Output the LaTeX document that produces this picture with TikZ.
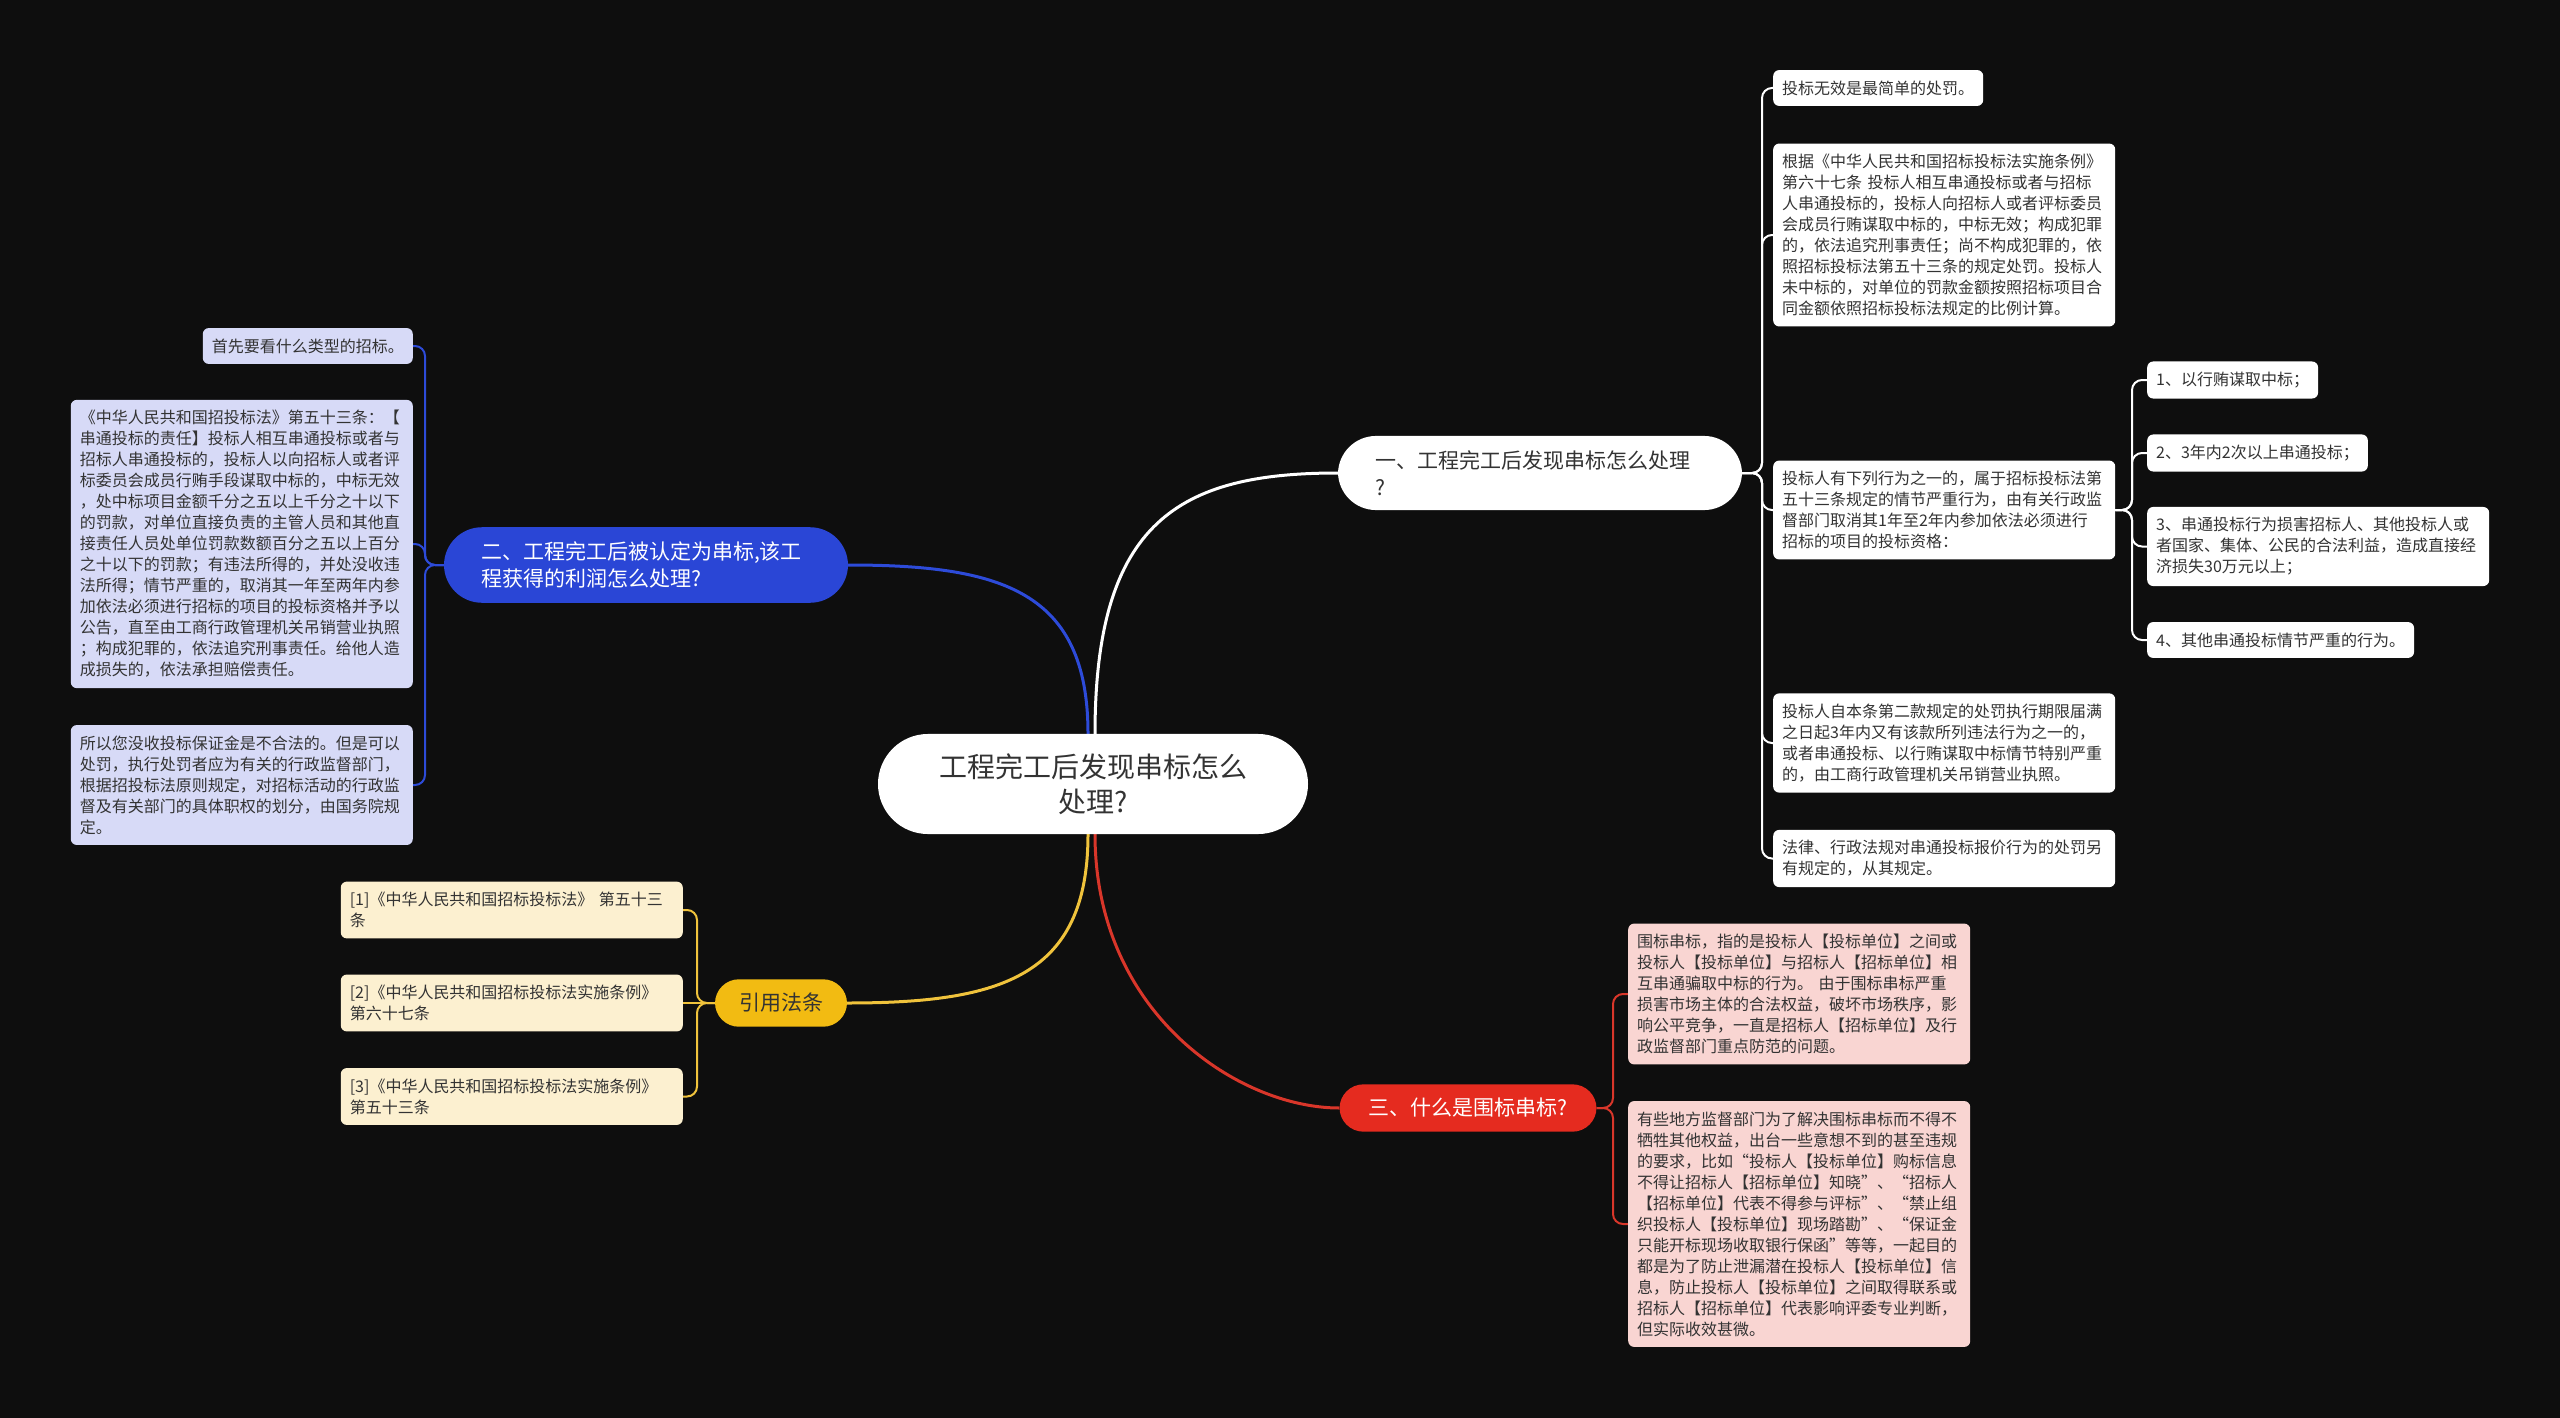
\documentclass[tikz,border=0pt]{standalone}
\usepackage{fontspec}
\setmainfont{Noto Sans CJK SC}
\usetikzlibrary{calc,backgrounds}
\definecolor{bg}{HTML}{0E0E0E}
\definecolor{txt}{HTML}{333333}
\definecolor{bluefill}{HTML}{2A46D6}
\definecolor{blueline}{HTML}{2D4BD9}
\definecolor{yelfill}{HTML}{F2BB12}
\definecolor{yelline}{HTML}{F0C33C}
\definecolor{redfill}{HTML}{E52B1F}
\definecolor{redline}{HTML}{D9362A}
\definecolor{lav}{HTML}{D7DAF7}
\definecolor{pinkf}{HTML}{F9D5D2}
\definecolor{cream}{HTML}{FCF0D0}
\begin{document}
\begin{tikzpicture}[x=1pt,y=1pt,
  leafbase/.style={draw=none, text=txt, rounded corners=6pt, inner xsep=9pt, inner ysep=10.5pt,
    font=\fontsize{16}{21}\selectfont, align=left},
  wleaf/.style={leafbase, fill=white},
  pleaf/.style={leafbase, fill=pinkf},
  lleaf/.style={leafbase, fill=lav, text=black!80},
  cleaf/.style={leafbase, fill=cream},
  wide/.style={text width=324pt},
  branchbox/.style={inner xsep=37pt, inner ysep=14.5pt, rounded corners=38pt, text width=330pt,
    align=left, font=\fontsize{21}{27}\selectfont},
  pillbox/.style={inner ysep=14pt, rounded corners=24pt, font=\fontsize{21}{27}\selectfont},
  mainw/.style={draw=white, line width=3pt},
  mainb/.style={draw=blueline, line width=3pt},
  mainy/.style={draw=yelline, line width=3pt},
  mainr/.style={draw=redline, line width=3pt},
  lw/.style={draw=white, line width=2pt, rounded corners=10pt},
  lb/.style={draw=blueline, line width=2pt, rounded corners=10pt},
  ly/.style={draw=yelline, line width=2pt, rounded corners=10pt},
  lr/.style={draw=redline, line width=2pt, rounded corners=10pt}
]
\useasboundingbox (0,0) rectangle (2560,-1418);

% root
\node[fill=white, text=txt, rounded corners=50pt, minimum width=430pt, inner ysep=19.5pt,
  align=center, font=\fontsize{28}{35}\selectfont] (root) at (1093,-784)
  {工程完工后发现串标怎么\\处理?};

% main branches
\node[branchbox, fill=white, text=txt] (b1) at (1540,-473) {一、工程完工后发现串标怎么处理\\?};
\node[branchbox, fill=bluefill, text=white] (b2) at (646,-565) {二、工程完工后被认定为串标,该工\\程获得的利润怎么处理?};
\node[pillbox, fill=yelfill, text=txt, inner xsep=24pt] (cite) at (781,-1003) {引用法条};
\node[pillbox, fill=redfill, text=white, inner xsep=29pt] (b3) at (1468,-1108) {三、什么是围标串标?};

% right white leaves
\node[wleaf, anchor=west] (lA) at (1773,-88) {投标无效是最简单的处罚。};
\node[wleaf, wide, anchor=west] (lB) at (1773,-235) {根据《中华人民共和国招标投标法实施条例》\\第六十七条 投标人相互串通投标或者与招标\\人串通投标的，投标人向招标人或者评标委员\\会成员行贿谋取中标的，中标无效；构成犯罪\\的，依法追究刑事责任；尚不构成犯罪的，依\\照招标投标法第五十三条的规定处罚。投标人\\未中标的，对单位的罚款金额按照招标项目合\\同金额依照招标投标法规定的比例计算。};
\node[wleaf, wide, anchor=west] (lC) at (1773,-510) {投标人有下列行为之一的，属于招标投标法第\\五十三条规定的情节严重行为，由有关行政监\\督部门取消其1年至2年内参加依法必须进行\\招标的项目的投标资格：};
\node[wleaf, wide, anchor=west] (lD) at (1773,-743) {投标人自本条第二款规定的处罚执行期限届满\\之日起3年内又有该款所列违法行为之一的，\\或者串通投标、以行贿谋取中标情节特别严重\\的，由工商行政管理机关吊销营业执照。};
\node[wleaf, wide, anchor=west] (lE) at (1773,-858.5) {法律、行政法规对串通投标报价行为的处罚另\\有规定的，从其规定。};

% sub leaves
\node[wleaf, anchor=west] (s1) at (2147,-380) {1、以行贿谋取中标；};
\node[wleaf, anchor=west] (s2) at (2147,-453) {2、3年内2次以上串通投标；};
\node[wleaf, wide, anchor=west] (s3) at (2147,-546.5) {3、串通投标行为损害招标人、其他投标人或\\者国家、集体、公民的合法利益，造成直接经\\济损失30万元以上；};
\node[wleaf, anchor=west] (s4) at (2147,-640) {4、其他串通投标情节严重的行为。};

% pink leaves
\node[pleaf, wide, anchor=west] (pF) at (1628,-994) {围标串标，指的是投标人【投标单位】之间或\\投标人【投标单位】与招标人【招标单位】相\\互串通骗取中标的行为。 由于围标串标严重\\损害市场主体的合法权益，破坏市场秩序，影\\响公平竞争，一直是招标人【招标单位】及行\\政监督部门重点防范的问题。};
\node[pleaf, wide, anchor=west] (pG) at (1628,-1224) {有些地方监督部门为了解决围标串标而不得不\\牺牲其他权益，出台一些意想不到的甚至违规\\的要求，比如“投标人【投标单位】购标信息\\不得让招标人【招标单位】知晓”、“招标人\\【招标单位】代表不得参与评标”、“禁止组\\织投标人【投标单位】现场踏勘”、“保证金\\只能开标现场收取银行保函”等等，一起目的\\都是为了防止泄漏潜在投标人【投标单位】信\\息，防止投标人【投标单位】之间取得联系或\\招标人【招标单位】代表影响评委专业判断，\\但实际收效甚微。};

% lavender leaves
\node[lleaf, anchor=east] (lH) at (413,-346) {首先要看什么类型的招标。};
\node[lleaf, wide, anchor=east] (lI) at (413,-544) {《中华人民共和国招投标法》第五十三条：【\\串通投标的责任】投标人相互串通投标或者与\\招标人串通投标的，投标人以向招标人或者评\\标委员会成员行贿手段谋取中标的，中标无效\\，处中标项目金额千分之五以上千分之十以下\\的罚款，对单位直接负责的主管人员和其他直\\接责任人员处单位罚款数额百分之五以上百分\\之十以下的罚款；有违法所得的，并处没收违\\法所得；情节严重的，取消其一年至两年内参\\加依法必须进行招标的项目的投标资格并予以\\公告，直至由工商行政管理机关吊销营业执照\\；构成犯罪的，依法追究刑事责任。给他人造\\成损失的，依法承担赔偿责任。};
\node[lleaf, wide, anchor=east] (lJ) at (413,-785) {所以您没收投标保证金是不合法的。但是可以\\处罚，执行处罚者应为有关的行政监督部门，\\根据招投标法原则规定，对招标活动的行政监\\督及有关部门的具体职权的划分，由国务院规\\定。};

% cream leaves
\node[cleaf, wide, anchor=east] (cK) at (683,-910) {[1]《中华人民共和国招标投标法》 第五十三\\条};
\node[cleaf, wide, anchor=east] (cL) at (683,-1003) {[2]《中华人民共和国招标投标法实施条例》\\第六十七条};
\node[cleaf, wide, anchor=east] (cM) at (683,-1096.5) {[3]《中华人民共和国招标投标法实施条例》\\第五十三条};

% junction coordinates
\coordinate (j1) at (1762,-473);
\coordinate (j2) at (425,-565);
\coordinate (j3) at (697,-1003);
\coordinate (j4) at (1613,-1108);
\coordinate (j5) at (2132,-510);

\begin{scope}[on background layer]
\fill[bg] (0,0) rectangle (2560,-1418);
% main connectors
\draw[mainw] ([xshift=2pt]root.north) .. controls ($(root.north)+(2,213)$) and ($(b1.west)+(-158,0)$) .. (b1.west);
\draw[mainb] ([xshift=-5pt]root.north) .. controls ($(root.north)+(-5,143)$) and ($(b2.east)+(153,0)$) .. (b2.east);
\draw[mainy] ([xshift=-5pt]root.south) .. controls ($(root.south)+(-5,-143)$) and ($(cite.east)+(153,0)$) .. (cite.east);
\draw[mainr] ([xshift=2pt]root.south) .. controls ($(root.south)+(2,-180)$) and ($(b3.west)+(-100,0)$) .. (b3.west);
% right white leaves
\draw[lw] (b1.east) -- (j1) |- (lA.west);
\draw[lw] (b1.east) -- (j1) |- (lB.west);
\draw[lw] (b1.east) -- (j1) |- (lC.west);
\draw[lw] (b1.east) -- (j1) |- (lD.west);
\draw[lw] (b1.east) -- (j1) |- (lE.west);
% sub leaves
\draw[lw] (lC.east) -- (j5) |- (s1.west);
\draw[lw] (lC.east) -- (j5) |- (s2.west);
\draw[lw] (lC.east) -- (j5) |- (s3.west);
\draw[lw] (lC.east) -- (j5) |- (s4.west);
% lavender
\draw[lb] (b2.west) -- (j2) |- (lH.east);
\draw[lb] (b2.west) -- (j2) |- (lI.east);
\draw[lb] (b2.west) -- (j2) |- (lJ.east);
% cream
\draw[ly] (cite.west) -- (j3) |- (cK.east);
\draw[ly] (cite.west) -- (cL.east);
\draw[ly] (cite.west) -- (j3) |- (cM.east);
% pink
\draw[lr] (b3.east) -- (j4) |- (pF.west);
\draw[lr] (b3.east) -- (j4) |- (pG.west);
\end{scope}
\end{tikzpicture}
\end{document}
